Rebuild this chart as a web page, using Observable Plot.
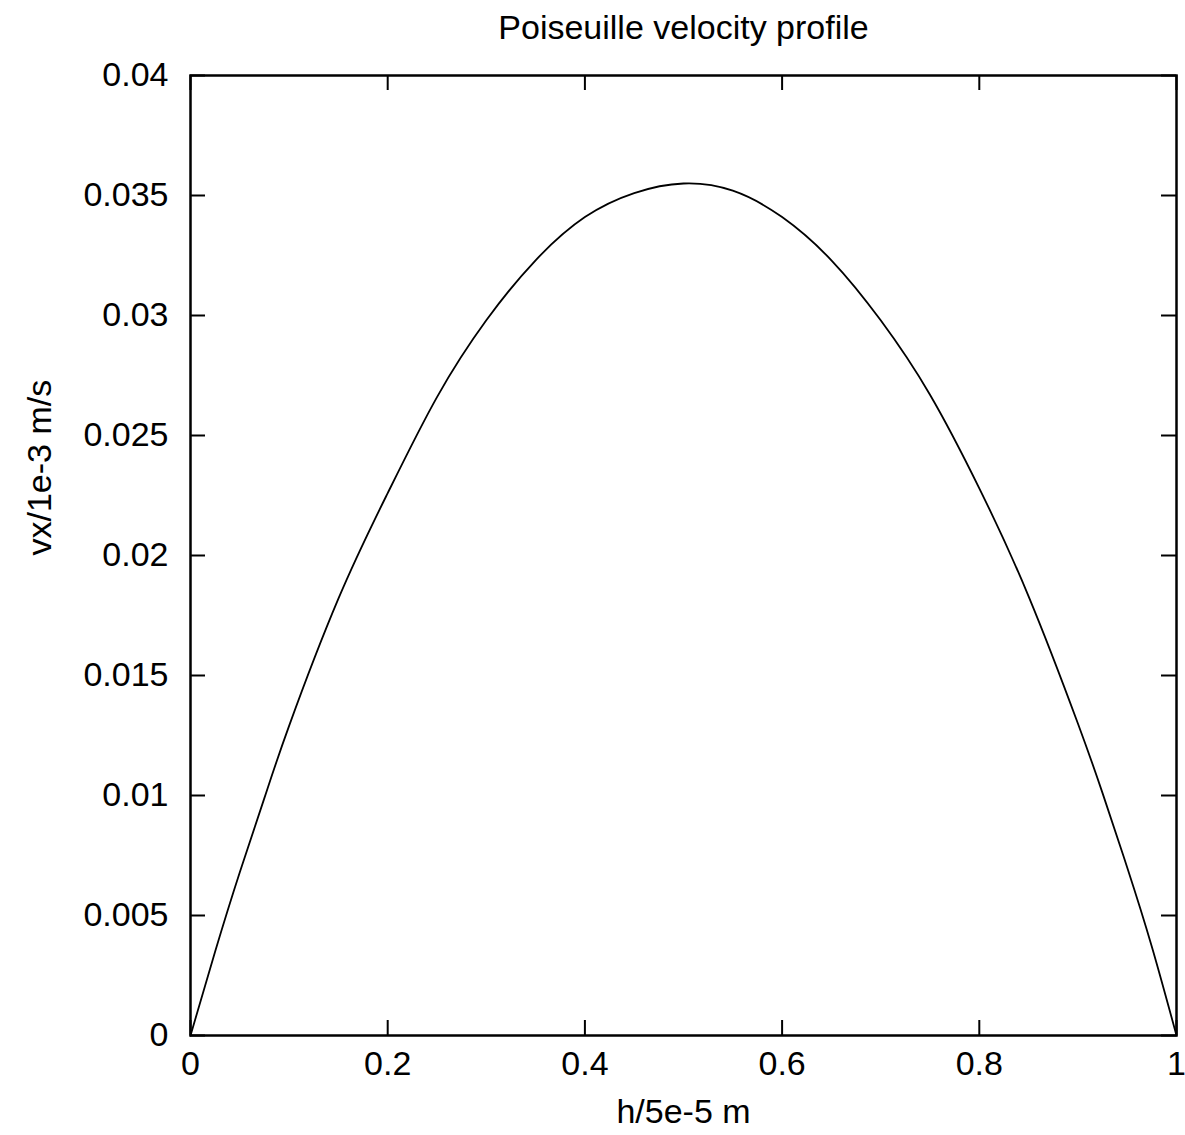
<!DOCTYPE html>
<html>
<head>
<meta charset="utf-8">
<script src="https://cdn.jsdelivr.net/npm/d3@7"></script>
<script src="https://cdn.jsdelivr.net/npm/@observablehq/plot@0.6"></script>
<style>
  html, body { margin: 0; padding: 0; background: #fff; }
  svg { font-family: "Liberation Sans", Arial, Helvetica, sans-serif; }
</style>
</head>
<body>
<div id="chart"></div>
<script>
// Data
const hValues = [0, 0.025, 0.05, 0.075, 0.1, 0.15, 0.2, 0.25, 0.3, 0.35, 0.4, 0.45, 0.5, 0.55, 0.6, 0.65, 0.7, 0.75, 0.8, 0.85, 0.9, 0.925, 0.95, 0.975, 1];
const vxValues = [0, 0.0035, 0.0068, 0.0099, 0.0129, 0.0182, 0.0226, 0.0266, 0.0298, 0.0323, 0.0341, 0.0351, 0.0355, 0.0352, 0.0341, 0.0323, 0.0298, 0.0267, 0.0228, 0.0183, 0.0130, 0.0101, 0.0070, 0.0037, 0];
const xTicks = [0, 0.2, 0.4, 0.6, 0.8, 1];
const yTicks = [0, 0.005, 0.01, 0.015, 0.02, 0.025, 0.03, 0.035, 0.04];
const titleText = "Poiseuille velocity profile";
const xLabel = "h/5e-5 m";
const yLabel = "vx/1e-3 m/s";

const data = hValues.map((h, i) => ({h, v: vxValues[i]}));

const W = 1185, H = 1135;
const mL = 190, mR = 9, mT = 75, mB = 100;
const innerW = W - mL - mR, innerH = H - mT - mB;
const tick = 15;
const fs = 34;

const chart = Plot.plot({
  width: W,
  height: H,
  marginLeft: mL,
  marginRight: mR,
  marginTop: mT,
  marginBottom: mB,
  style: {fontFamily: '"Liberation Sans", Arial, Helvetica, sans-serif', background: "#fff", color: "#000"},
  x: {domain: [0, 1]},
  y: {domain: [0, 0.04]},
  marks: [
    Plot.axisX({ticks: xTicks, tickSize: 0, tickPadding: 15, fontSize: fs, label: null, tickFormat: d => String(d)}),
    Plot.axisY({ticks: yTicks, tickSize: 0, tickPadding: 22, fontSize: fs, label: null, tickFormat: d => String(d)}),
    // inward ticks on all four sides
    Plot.tickX(xTicks, {x: d => d, insetTop: innerH - tick, stroke: "#000", strokeWidth: 2}),
    Plot.tickX(xTicks, {x: d => d, insetBottom: innerH - tick, stroke: "#000", strokeWidth: 2}),
    Plot.tickY(yTicks, {y: d => d, insetRight: innerW - tick, stroke: "#000", strokeWidth: 2}),
    Plot.tickY(yTicks, {y: d => d, insetLeft: innerW - tick, stroke: "#000", strokeWidth: 2}),
    Plot.frame({stroke: "#000", strokeWidth: 2.5}),
    Plot.line(data, {x: "h", y: "v", stroke: "#000", strokeWidth: 1.8, curve: "natural"}),
    Plot.text([titleText], {frameAnchor: "top", dy: -47, fontSize: fs, fill: "#000", lineAnchor: "middle"}),
    Plot.text([xLabel], {frameAnchor: "bottom", dy: 77, fontSize: fs, fill: "#000", lineAnchor: "middle"}),
    Plot.text([yLabel], {frameAnchor: "left", dx: -150, rotate: -90, fontSize: fs, fill: "#000", lineAnchor: "middle"})
  ]
});
document.getElementById("chart").appendChild(chart);
</script>
</body>
</html>
